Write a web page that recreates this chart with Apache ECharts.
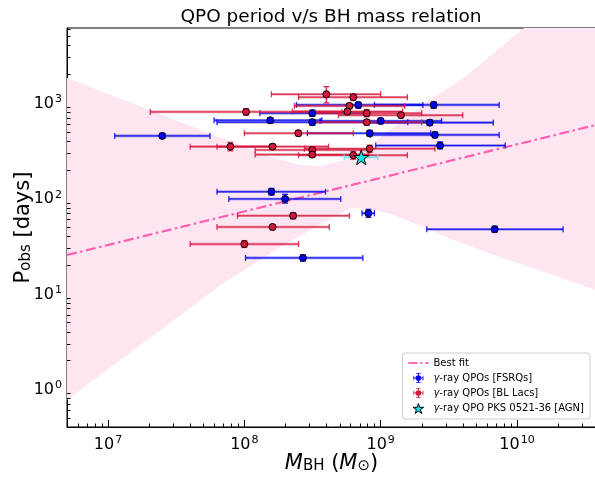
<!DOCTYPE html>
<html lang="en">
<head>
<meta charset="UTF-8">
<title>QPO period v/s BH mass relation</title>
<script src="https://cdn.jsdelivr.net/npm/echarts@6/dist/echarts.min.js"></script>
<style>
  html, body { margin: 0; padding: 0; background: #fff; }
  #main { width: 595px; height: 479px; }
</style>
</head>
<body>
<div id="main"></div>
<script>
// rows: [mass, massLo, massHi, period, periodLo, periodHi]
const fsrqs = [
  [2.5e7, 1.12e7, 5.6e7, 451, 425, 478],
  [1.55e8, 6.0e7, 3.7e8, 658, 615, 700],
  [3.15e8, 1.3e8, 7.9e8, 780, 725, 840],
  [3.15e8, 6.3e7, 1.58e9, 627, 585, 670],
  [6.86e8, 2.41e8, 2.04e9, 953, 880, 1010],
  [2.45e9, 9.0e8, 7.4e9, 953, 880, 1020],
  [1.0e9, 3.6e8, 2.8e9, 647, 605, 690],
  [2.29e9, 7.9e8, 6.7e9, 621, 580, 665],
  [8.3e8, 2.9e8, 2.33e9, 481, 450, 515],
  [2.5e9, 8.4e8, 7.4e9, 462, 432, 494],
  [2.73e9, 9.2e8, 8.2e9, 357, 330, 390],
  [1.58e8, 6.3e7, 3.94e8, 117, 108, 127],
  [1.99e8, 7.7e7, 5.1e8, 98.4, 89, 110],
  [8.13e8, 7.3e8, 9.0e8, 69.7, 63, 76.5],
  [6.86e9, 2.18e9, 2.18e10, 47.3, 44, 51],
  [2.69e8, 1.02e8, 7.4e8, 23.7, 22, 25.5]
];
const blLacs = [
  [1.03e8, 2.04e7, 5.2e8, 805, 745, 868],
  [4.0e8, 1.58e8, 1.0e9, 1233, 1000, 1480],
  [6.3e8, 2.5e8, 1.57e9, 1148, 1060, 1230],
  [5.9e8, 2.33e8, 1.5e9, 930, 870, 990],
  [5.7e8, 2.25e8, 1.45e9, 811, 760, 860],
  [7.9e8, 3.1e8, 2.0e9, 780, 715, 850],
  [1.41e9, 4.9e8, 4.0e9, 743, 700, 790],
  [7.9e8, 3.1e8, 2.0e9, 627, 585, 670],
  [2.49e8, 1.0e8, 6.3e8, 481, 450, 515],
  [7.9e7, 4.0e7, 1.58e8, 348, 315, 385],
  [1.61e8, 6.3e7, 4.15e8, 348, 328, 370],
  [3.15e8, 1.2e8, 8.2e8, 321, 300, 345],
  [3.15e8, 1.2e8, 8.2e8, 287, 270, 305],
  [8.3e8, 2.76e8, 2.5e9, 331, 302, 360],
  [6.3e8, 2.5e8, 1.57e9, 283, 257, 310],
  [2.28e8, 8.9e7, 5.9e8, 65.6, 61, 70.5],
  [1.61e8, 6.3e7, 4.2e8, 50.0, 47, 53],
  [1.0e8, 4.0e7, 2.5e8, 33.1, 30.5, 36]
];
const pks0521 = [
  [7.2e8, 5.4e8, 9.5e8, 269, 262, 276]
];

// best fit and its confidence band: [mass, period]
const bestFit = [[5e6, 25.4], [3.8e10, 588]];
const bandUpper = [
  [5e6, 1830], [1.55e8, 271], [2.58e8, 223], [3.62e8, 218], [5.53e8, 253],
  [8.43e8, 362], [1.4e9, 632], [2.33e9, 1100], [3.87e9, 1742], [6.12e9, 2965],
  [1.13e10, 6120], [3.8e10, 28000]
];
const bandLower = [
  [5e6, 0.766], [2.04e7, 3.42], [6.89e7, 12.6], [1.84e8, 30.8], [3.62e8, 53.7],
  [6.01e8, 79.0], [8.43e8, 77.2], [1.19e9, 68.4], [1.97e9, 51.2], [3.27e9, 37.4],
  [6.44e9, 26.1], [1.43e10, 17.7], [3.8e10, 10.9]
];

const names = {
  fit: 'Best fit',
  fsrq: 'γ-ray QPOs [FSRQs]',
  bll: 'γ-ray QPOs [BL Lacs]',
  agn: 'γ-ray QPO PKS 0521-36 [AGN]'
};

const xMin = 5e6, xMax = 3.8e10, yMin = 0.4, yMax = 6100;
const minorMults = [2, 3, 4, 5, 6, 7, 8, 9];
const xDecades = [1e6, 1e7, 1e8, 1e9, 1e10];
const yDecades = [0.1, 1, 10, 100, 1000];

const FONT = 'DejaVu Sans';
const STAR = 'path://M50 0L61.17 34.63L97.55 34.55L68.07 55.87L79.39 90.45L50 69L20.61 90.45L31.93 55.87L2.45 34.55L38.83 34.63Z';
const EBAR = 'path://M2 9.3H18V10.7H2Z M2 6.5H3.2V13.5H2Z M16.8 6.5H18V13.5H16.8Z M9.3 2H10.7V18H9.3Z M6.5 2H13.5V3.2H6.5Z M6.5 16.8H13.5V18H6.5Z M14.5 10A4.5 4.5 0 1 1 5.5 10A4.5 4.5 0 1 1 14.5 10Z';
const DASHDOT = 'path://M0 4H9V6H0Z M12 4H14V6H12Z M17 4H20V6H17Z';

let minorX = [], minorY = [];
xDecades.forEach(d => minorMults.forEach(m => { if (m * d > xMin && m * d < xMax) minorX.push([m * d, 1]); }));
yDecades.forEach(d => minorMults.forEach(m => { if (m * d > yMin && m * d < yMax) minorY.push([1e8, m * d]); }));

function errorBars(name, rows, color) {
  return {
    type: 'custom',
    name: name,
    z: 3,
    clip: true,
    itemStyle: { color: color },
    data: rows,
    encode: { x: 0, y: 3 },
    renderItem: function (params, api) {
      const c = api.coord([api.value(0), api.value(3)]);
      const l = api.coord([api.value(1), api.value(3)]);
      const r = api.coord([api.value(2), api.value(3)]);
      const b = api.coord([api.value(0), api.value(4)]);
      const t = api.coord([api.value(0), api.value(5)]);
      const cap = 3;
      const ln = (x1, y1, x2, y2, w, op) => ({
        type: 'line',
        shape: { x1: x1, y1: y1, x2: x2, y2: y2 },
        style: { stroke: color, lineWidth: w, opacity: op }
      });
      return {
        type: 'group',
        children: [
          ln(l[0], c[1], r[0], c[1], 2.6, 0.45),
          ln(l[0], c[1], r[0], c[1], 1, 0.9),
          ln(l[0], c[1] - cap, l[0], c[1] + cap, 1.3, 0.85),
          ln(r[0], c[1] - cap, r[0], c[1] + cap, 1.3, 0.85),
          ln(c[0], b[1], c[0], t[1], 1.5, 0.9),
          ln(c[0] - cap, b[1], c[0] + cap, b[1], 1.3, 0.9),
          ln(c[0] - cap, t[1], c[0] + cap, t[1], 1.3, 0.9)
        ]
      };
    }
  };
}

function markers(name, rows, color, symbol, size) {
  return {
    type: 'scatter',
    name: name,
    z: 4,
    symbol: symbol,
    symbolSize: size,
    itemStyle: { color: color, borderColor: '#000', borderWidth: 1, opacity: 1 },
    data: rows.map(r => [r[0], r[3]])
  };
}

function logLabel(v) {
  const e = Math.log10(v);
  const r = Math.round(e);
  return Math.abs(e - r) < 1e-6 ? '{b|10}{s|' + r + '}' : '';
}

const tickRich = {
  b: { fontSize: 16, fontFamily: FONT, color: '#000', lineHeight: 18, verticalAlign: 'bottom' },
  s: { fontSize: 11, fontFamily: FONT, color: '#000', lineHeight: 11, padding: [0, 0, 8, 1], verticalAlign: 'top' }
};
const nameRich = {
  n: { fontSize: 21, fontFamily: FONT, color: '#000', lineHeight: 24, verticalAlign: 'bottom' },
  it: { fontSize: 21, fontFamily: FONT, fontStyle: 'italic', color: '#000', lineHeight: 24, verticalAlign: 'bottom' },
  sub: { fontSize: 15, fontFamily: FONT, color: '#000', lineHeight: 15, padding: [12, 0, 0, 0], verticalAlign: 'bottom' }
};

const chart = echarts.init(document.getElementById('main'), null, { renderer: 'canvas' });

const option = {
  animation: false,
  backgroundColor: '#fff',
  title: {
    text: 'QPO period v/s BH mass relation',
    left: 326,
    top: 3,
    textAlign: 'center',
    textStyle: { fontSize: 18.5, fontWeight: 'normal', fontFamily: FONT, color: '#000' }
  },
  grid: {
    left: 67, right: -1, top: 28, bottom: 52,
    outerBoundsMode: 'none',
    containLabel: false,
    show: true, borderColor: '#000', borderWidth: 1, backgroundColor: 'transparent'
  },
  legend: {
    orient: 'vertical',
    right: 5,
    top: 353,
    selectedMode: false,
    padding: [5, 6, 5, 6],
    itemGap: 5,
    itemWidth: 20,
    itemHeight: 10,
    backgroundColor: 'rgba(255,255,255,0.85)',
    borderColor: '#cccccc',
    borderWidth: 1,
    borderRadius: 3,
    textStyle: {
      fontSize: 10, fontFamily: FONT, color: '#000',
      rich: { g: { fontSize: 10, fontFamily: FONT, fontStyle: 'italic', color: '#000' } }
    },
    formatter: n => n.replace('γ', '{g|γ}'),
    data: [
      { name: names.fit, icon: DASHDOT, itemStyle: { color: '#ff69b4', borderWidth: 0 } },
      { name: names.fsrq, icon: EBAR, itemStyle: { color: '#0000ee', borderWidth: 0 } },
      { name: names.bll, icon: EBAR, itemStyle: { color: '#d6173c', borderWidth: 0 } },
      { name: names.agn, icon: STAR, itemStyle: { color: '#15e6e6', borderColor: '#000', borderWidth: 1 } }
    ]
  },
  xAxis: {
    type: 'log',
    logBase: 10,
    min: xMin,
    max: xMax,
    splitLine: { show: false },
    axisLine: { lineStyle: { color: '#000', width: 1 } },
    axisTick: { inside: true, length: 7, lineStyle: { color: '#000', width: 1 } },
    axisLabel: { margin: 8, formatter: logLabel, rich: tickRich, showMinLabel: false, showMaxLabel: false },
    name: '{it|M}{sub|BH}{n| (}{it|M}{sub|⊙}{n|)}',
    nameLocation: 'middle',
    nameGap: 23,
    nameMoveOverlap: false,
    nameTextStyle: { rich: nameRich }
  },
  yAxis: {
    type: 'log',
    logBase: 10,
    min: yMin,
    max: yMax,
    splitLine: { show: false },
    axisLine: { lineStyle: { color: '#000', width: 1 } },
    axisTick: { inside: true, length: 7, lineStyle: { color: '#000', width: 1 } },
    axisLabel: { margin: 5, formatter: logLabel, rich: tickRich, showMinLabel: false, showMaxLabel: false },
    name: '{n|P}{sub|obs}{n| [days]}',
    nameLocation: 'middle',
    nameRotate: 90,
    nameGap: 33,
    nameMoveOverlap: false,
    nameTextStyle: { rich: nameRich }
  },
  series: [
    {
      type: 'custom',
      name: 'band',
      z: 1,
      clip: true,
      silent: true,
      data: [[bandUpper[0][0], bandUpper[0][1]]],
      renderItem: function (params, api) {
        const pts = bandUpper.concat(bandLower.slice().reverse()).map(p => api.coord(p));
        return { type: 'polygon', shape: { points: pts }, style: { fill: '#fde6f2', stroke: null } };
      }
    },
    {
      type: 'line',
      name: names.fit,
      z: 2,
      symbol: 'none',
      itemStyle: { color: '#ff5fb0' },
      lineStyle: { color: '#ff5fb0', width: 2.2, type: [10, 3.5, 2.5, 3.5] },
      data: bestFit
    },
    errorBars(names.fsrq, fsrqs, '#0000ee'),
    errorBars(names.bll, blLacs, '#d6173c'),
    errorBars(names.agn, pks0521, '#5ee8e8'),
    markers(names.fsrq, fsrqs, '#0000ee', 'circle', 7),
    markers(names.bll, blLacs, '#d6173c', 'circle', 7),
    markers(names.agn, pks0521, '#15e6e6', STAR, 15),
    {
      type: 'custom',
      name: 'xminor',
      z: 5,
      silent: true,
      data: minorX,
      renderItem: function (params, api) {
        const cs = params.coordSys;
        const x = Math.round(api.coord([api.value(0), 1])[0]) + 0.5;
        const yb = cs.y + cs.height;
        return { type: 'line', shape: { x1: x, y1: yb, x2: x, y2: yb - 3.5 }, style: { stroke: '#000', lineWidth: 1 } };
      }
    },
    {
      type: 'custom',
      name: 'yminor',
      z: 5,
      silent: true,
      data: minorY,
      renderItem: function (params, api) {
        const cs = params.coordSys;
        const y = Math.round(api.coord([1e8, api.value(1)])[1]) + 0.5;
        return { type: 'line', shape: { x1: cs.x, y1: y, x2: cs.x + 3.5, y2: y }, style: { stroke: '#000', lineWidth: 1 } };
      }
    }
  ]
};

chart.setOption(option);
</script>
</body>
</html>
